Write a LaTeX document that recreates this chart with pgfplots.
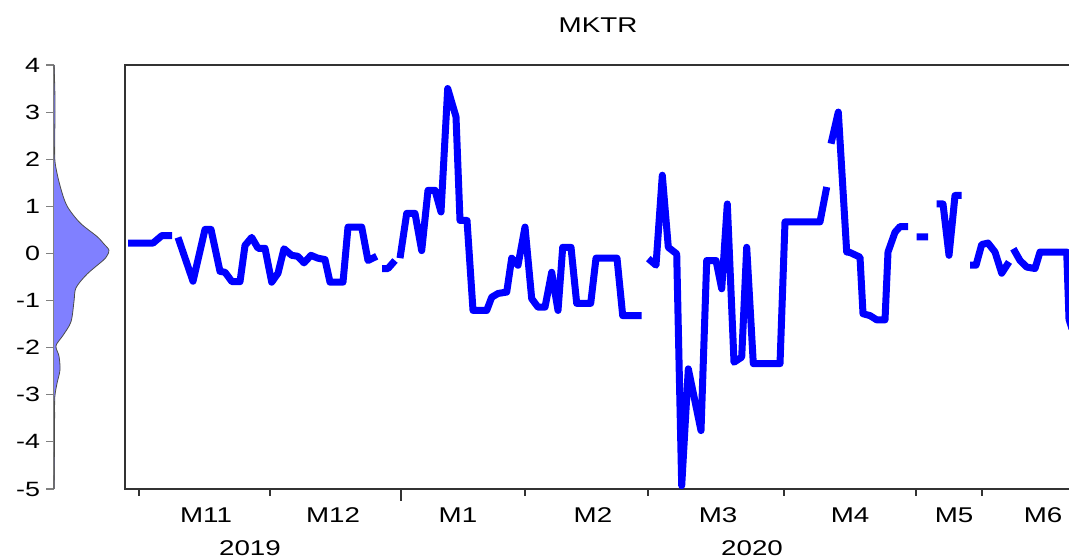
\documentclass[border=0pt]{standalone}
\usepackage{pgfplots}
\pgfplotsset{compat=1.18}
\usepackage{fontspec}
\setmainfont{Liberation Sans}[FakeStretch=1.3]
\definecolor{evblue}{RGB}{0,0,255}
\definecolor{densfill}{RGB}{128,128,255}
\pgfplotstableread{
x y
128 0.22
153 0.22
162 0.38
172 0.38
175 nan
178 0.34
193 -0.59
205 0.51
211 0.51
220 -0.38
225 -0.40
232 -0.60
240 -0.60
245 0.17
251.7 0.34
258 0.11
265 0.11
271.7 -0.61
278 -0.42
284 0.10
291.7 -0.04
297.7 -0.06
304 -0.20
311 -0.04
317.7 -0.10
325 -0.13
330 -0.61
343 -0.61
348 0.56
361.7 0.56
368 -0.15
376.7 -0.06
379 nan
382 -0.32
388 -0.32
395 -0.15
397 nan
400 -0.10
406.7 0.85
415 0.85
421.7 0.06
428 1.34
435 1.34
441 0.88
447.7 3.50
456 2.90
460 0.70
467 0.70
473 -1.21
486.7 -1.21
491.7 -0.93
498 -0.85
506.7 -0.82
511.7 -0.10
518 -0.25
525 0.56
531.7 -0.96
538 -1.14
545 -1.14
551.7 -0.40
558 -1.21
562.7 0.13
571 0.13
576.7 -1.06
590.7 -1.06
596 -0.10
617 -0.10
622.7 -1.32
641.7 -1.32
645 nan
648.3 -0.11
656 -0.25
662.3 1.66
668.3 0.13
676.7 -0.01
681.7 -4.93
688.3 -2.45
701 -3.76
706.7 -0.15
716 -0.15
721.7 -0.75
727.3 1.05
734 -2.31
741.7 -2.20
746.7 0.13
753.3 -2.34
780 -2.34
785 0.67
820 0.67
826.7 1.41
829 nan
831 2.33
838.3 3.00
846.7 0.03
850 0.02
860 -0.08
863 -1.28
870 -1.32
876.7 -1.41
885 -1.41
888 0.03
895 0.45
900 0.57
908 0.57
912 nan
916.7 0.35
928 0.35
932 nan
936.7 1.05
943 1.05
949 -0.04
955 1.23
961.7 1.23
966 nan
970 -0.25
976 -0.25
981.7 0.19
988 0.22
995 0.03
1001.7 -0.42
1009 -0.18
1011 nan
1013.3 0.10
1020 -0.15
1026.7 -0.29
1035 -0.32
1040 0.03
1066.7 0.03
1069 -1.40
1072 -1.60
}\mktr
\pgfplotstableread{
d v
0 4.0
0.8 3.5
1.0 3.0
0.8 2.5
1.0 1.95
6 1.44
13 1.01
26 0.65
43 0.36
50 0.2
55 0.07
53 -0.05
49 -0.15
33 -0.44
22 -0.73
20 -1.02
17 -1.45
9 -1.74
2 -1.96
5 -2.18
6 -2.47
3 -2.76
0.8 -3.05
0.6 -3.5
0.5 -4.0
0 -5.0
}\dens
\begin{document}
\begin{tikzpicture}
\path[use as bounding box] (0pt,0pt) rectangle (801.75pt,419.25pt);
% density panel
\begin{axis}[
  at={(40.5pt,52.5pt)}, anchor=south west,
  scale only axis, width=45pt, height=318pt,
  xmin=0, xmax=60, ymin=-5, ymax=4,
  axis x line=none,
  axis y line*=left,
  y axis line style={draw=gray, line width=1.5pt},
  ytick={-5,-4,-3,-2,-1,0,1,2,3,4},
  tick align=outside,
  major tick length=6pt,
  ytick style={draw=gray, line width=0.8pt},
  yticklabel style={font=\fontsize{15.5}{17}\selectfont, xshift=-1pt},
  /pgf/number format/assume math mode=true,
  clip=false,
]
\addplot[fill=densfill, draw=black!70, line width=0.6pt, smooth] table[x=d,y=v] {\dens};
\end{axis}
% main panel
\begin{axis}[
  at={(93.75pt,52.5pt)}, anchor=south west,
  scale only axis, width=712.5pt, height=318pt,
  xmin=125, xmax=1075, ymin=-5, ymax=4,
  axis line style={line width=1pt, draw=black!80},
  ytick=\empty,
  xtick={139,270,525,648,784,916,982},
  xticklabels={},
  minor xtick={401},
  tick align=outside,
  major tick length=5pt,
  minor tick length=9pt,
  x tick style={line width=0.8pt, draw=black!80},
  xtick pos=bottom,
  extra x ticks={206,333,458,593,718,850,954,1043},
  extra x tick labels={M11,M12,M1,M2,M3,M4,M5,M6},
  extra x tick style={major tick length=0pt, tick label style={anchor=center, yshift=-19.5pt}},
  xticklabel style={font=\fontsize{16}{18}\selectfont},
  unbounded coords=jump,
  clip=false,
]
\begin{scope}
\clip (axis cs:125,-5) rectangle (axis cs:1075,4);
\addplot[evblue, line width=5.25pt, line join=round, line cap=butt] table[x=x,y=y] {\mktr};
\end{scope}
\node[font=\fontsize{16}{18}\selectfont] at (axis cs:250,-5) [yshift=-44.25pt] {2019};
\node[font=\fontsize{16}{18}\selectfont] at (axis cs:752,-5) [yshift=-44.25pt] {2020};
\node[font=\fontsize{16}{18}\selectfont] at (axis cs:598,4) [yshift=30pt] {MKTR};
\end{axis}
\end{tikzpicture}
\end{document}
